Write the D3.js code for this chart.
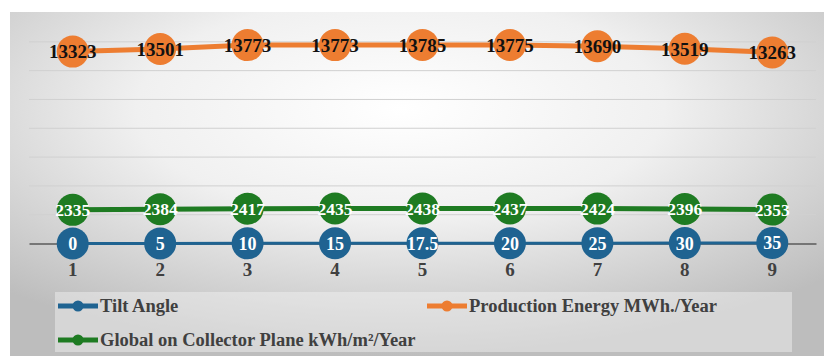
<!DOCTYPE html>
<html>
<head>
<meta charset="utf-8">
<script src="https://cdn.jsdelivr.net/npm/d3@7"></script>
<style>
  html, body { margin: 0; padding: 0; background: #ffffff; }
  svg { display: block; }
</style>
</head>
<body>
<svg id="chart" width="824" height="356"></svg>
<script>
// Chart data
const categories = [1, 2, 3, 4, 5, 6, 7, 8, 9];
const tiltAngle = [0, 5, 10, 15, 17.5, 20, 25, 30, 35];
const productionEnergy = [13323, 13501, 13773, 13773, 13785, 13775, 13690, 13519, 13263];
const globalCollector = [2335, 2384, 2417, 2435, 2438, 2437, 2424, 2396, 2353];
const yTicks = [0, 2000, 4000, 6000, 8000, 10000, 12000, 14000, 16000];

const seriesNames = ["Tilt Angle", "Production Energy MWh./Year", "Global on Collector Plane kWh/m²/Year"];
const seriesColors = ["#1f6391", "#ed7d31", "#1e7b22"];

const FONT = "Liberation Serif";

const svg = d3.select("#chart");
const W = 824, H = 356;
const area = { x: 10, y: 12, w: W - 10, h: H - 12 };
const plot = { left: 29, right: 816, top: 13, bottom: 243.5 };

// Background gradient
const defs = svg.append("defs");
const grad = defs.append("radialGradient")
  .attr("id", "bg")
  .attr("cx", "48%").attr("cy", "28%").attr("r", "72%")
  .attr("fx", "48%").attr("fy", "28%");
grad.append("stop").attr("offset", "0").attr("stop-color", "#ffffff");
grad.append("stop").attr("offset", "0.45").attr("stop-color", "#f0f0f0");
grad.append("stop").attr("offset", "1").attr("stop-color", "#bdbdbd");

svg.append("rect")
  .attr("x", area.x).attr("y", area.y)
  .attr("width", area.w).attr("height", area.h)
  .attr("fill", "url(#bg)");

// Scales
const x = d3.scaleBand().domain(categories).range([plot.left, plot.right]);
const cx = d => x(d) + x.bandwidth() / 2;
const y = d3.scaleLinear().domain([0, 16000]).range([plot.bottom, plot.top]);

// Gridlines
svg.append("g")
  .selectAll("line")
  .data(yTicks.filter(t => t > 0 && t < 16000))
  .join("line")
  .attr("x1", plot.left).attr("x2", plot.right)
  .attr("y1", d => y(d)).attr("y2", d => y(d))
  .attr("stroke", "#d0d0d0").attr("stroke-width", 1);

// Category axis
const xAxis = svg.append("g")
  .attr("transform", `translate(0,${plot.bottom})`)
  .call(d3.axisBottom(x).tickSize(0).tickPadding(19));
xAxis.select(".domain").attr("stroke", "#5a5a5a").attr("stroke-width", 1.6);
xAxis.selectAll("text")
  .attr("fill", "#404040")
  .style("font-family", FONT)
  .style("font-size", "19px")
  .style("font-weight", "bold");

// Series drawing
const series = [
  { values: tiltAngle, color: seriesColors[0], width: 3, r: 16, labelColor: "#ffffff", size: 18 },
  { values: globalCollector, color: seriesColors[2], width: 5, r: 16, labelColor: "#ffffff", size: 17.5 },
  { values: productionEnergy, color: seriesColors[1], width: 5, r: 16, labelColor: "#111111", size: 19 }
];

const line = d3.line().x((d, i) => cx(categories[i])).y(d => y(d));

series.forEach(s => {
  const g = svg.append("g");
  g.append("path")
    .datum(s.values)
    .attr("d", line)
    .attr("fill", "none")
    .attr("stroke", s.color)
    .attr("stroke-width", s.width);
  g.selectAll("circle")
    .data(s.values)
    .join("circle")
    .attr("cx", (d, i) => cx(categories[i]))
    .attr("cy", d => y(d))
    .attr("r", s.r)
    .attr("fill", s.color);
  g.selectAll("text")
    .data(s.values)
    .join("text")
    .attr("x", (d, i) => cx(categories[i]))
    .attr("y", d => y(d))
    .attr("dy", "0.36em")
    .attr("text-anchor", "middle")
    .attr("fill", s.labelColor)
    .style("font-family", FONT)
    .style("font-weight", "bold")
    .style("font-size", s.size + "px")
    .text(d => d);
});

// Legend
const legend = svg.append("g");
legend.append("rect")
  .attr("x", 55).attr("y", 292)
  .attr("width", 737).attr("height", 60)
  .attr("fill", "#f4f4f4").attr("opacity", 0.45);

const legendItems = [
  { name: seriesNames[0], color: seriesColors[0], x: 58, y: 306 },
  { name: seriesNames[1], color: seriesColors[1], x: 427, y: 306 },
  { name: seriesNames[2], color: seriesColors[2], x: 58, y: 340 }
];
legendItems.forEach(it => {
  const g = legend.append("g").attr("transform", `translate(${it.x},${it.y})`);
  g.append("line").attr("x1", 0).attr("x2", 40).attr("y1", 0).attr("y2", 0)
    .attr("stroke", it.color).attr("stroke-width", 5);
  g.append("circle").attr("cx", 20).attr("cy", 0).attr("r", 5.5).attr("fill", it.color);
  g.append("text").attr("x", 42).attr("y", 0).attr("dy", "0.33em")
    .attr("fill", "#404040")
    .style("font-family", FONT)
    .style("font-weight", "bold")
    .style("font-size", "18.5px")
    .text(it.name);
});
</script>
</body>
</html>
